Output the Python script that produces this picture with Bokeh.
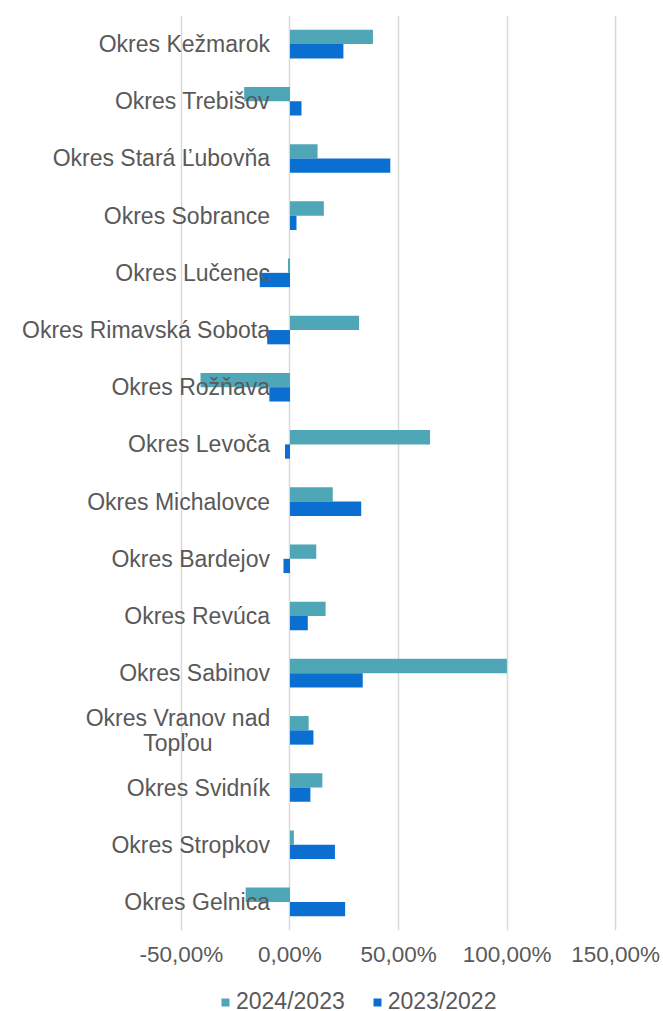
from bokeh.plotting import figure
from bokeh.layouts import column
from bokeh.models import (FactorRange, Range1d, FixedTicker, Legend, LegendItem,
                          ColumnDataSource)
from bokeh.transform import dodge
from bokeh.core.properties import value
from bokeh.embed import file_html
from bokeh.resources import INLINE

# ---------------- data ----------------
districts = [
    "Okres Kežmarok", "Okres Trebišov", "Okres Stará Ľubovňa", "Okres Sobrance",
    "Okres Lučenec", "Okres Rimavská Sobota", "Okres Rožňava", "Okres Levoča",
    "Okres Michalovce", "Okres Bardejov", "Okres Revúca", "Okres Sabinov",
    "Okres Vranov nad Topľou", "Okres Svidník", "Okres Stropkov", "Okres Gelnica",
]
change_2024_2023 = [38.2, -21.1, 12.7, 15.6, -0.9, 31.8, -41.2, 64.5,
                    19.7, 12.1, 16.4, 99.9, 8.6, 14.9, 1.8, -20.4]
change_2023_2022 = [24.6, 5.3, 46.2, 3.0, -13.9, -10.5, -9.5, -2.3,
                    32.8, -3.0, 8.2, 33.5, 10.8, 9.4, 20.7, 25.4]
series_names = ["2024/2023", "2023/2022"]
tick_values = [-50, 0, 50, 100, 150]
tick_labels = ["-50,00%", "0,00%", "50,00%", "100,00%", "150,00%"]

# ---------------- style ----------------
TEAL = "#4ea6b6"
BLUE = "#0a6fd1"
TEXT = "#595959"
FONT = "Liberation Sans"
FS = "23px"

source = ColumnDataSource(dict(d=districts, a=change_2024_2023, b=change_2023_2022))

p = figure(width=663, height=969, output_backend="svg", toolbar_location=None,
           y_range=FactorRange(factors=list(reversed(districts)), range_padding=0),
           x_range=Range1d(-133.3, 172.0),
           y_axis_location=None,
           min_border_left=0, min_border_right=0, min_border_top=15, min_border_bottom=30)
p.outline_line_color = None
p.background_fill_color = "white"
p.border_fill_color = "white"

r1 = p.hbar(y=dodge("d", 0.125, range=p.y_range), right="a", left=0, height=0.25,
            source=source, fill_color=TEAL, line_color=None)
r2 = p.hbar(y=dodge("d", -0.125, range=p.y_range), right="b", left=0, height=0.25,
            source=source, fill_color=BLUE, line_color=None)

# grid / axis
p.ygrid.grid_line_color = None
p.xgrid.grid_line_color = "#d9d9d9"
p.xgrid.grid_line_width = 1.5
p.xaxis.ticker = FixedTicker(ticks=tick_values)
p.xaxis.major_label_overrides = {v: s for v, s in zip(tick_values, tick_labels)}
p.xaxis.axis_line_color = None
p.xaxis.major_tick_line_color = None
p.xaxis.minor_tick_line_color = None
p.xaxis.major_label_text_font = FONT
p.xaxis.major_label_text_font_size = "22.5px"
p.xaxis.major_label_text_color = TEXT
p.xaxis.major_label_standoff = 5

# category labels next to the zero line
single = [d for d in districts if len(d) <= 22]
wrapped = [d for d in districts if len(d) > 22]
p.text(x=[0] * len(single), y=single, text=single, x_offset=-20,
       text_align="right", text_baseline="middle", text_font=value(FONT),
       text_font_size=FS, text_color=TEXT)
for d in wrapped:
    first, second = d.rsplit(" ", 1)
    p.text(x=[0, 0], y=[d, d], text=[first, second], x_offset=-112,
           y_offset=[-12.5, 12.5], text_align="center", text_baseline="middle",
           text_font=value(FONT), text_font_size=FS, text_color=TEXT)

# ---------------- legend strip ----------------
lf = figure(width=663, height=42, output_backend="svg", toolbar_location=None,
            x_range=Range1d(0, 1), y_range=Range1d(0, 1),
            x_axis_location=None, y_axis_location=None, min_border=0)
lf.outline_line_color = None
lf.grid.grid_line_color = None
lf.background_fill_color = "white"
lf.border_fill_color = "white"
# legend keys only (placed outside the visible range of this strip)
k1 = lf.hbar(y=[-5], left=[0], right=[0], height=0.25, fill_color=TEAL, line_color=None)
k2 = lf.hbar(y=[-5], left=[0], right=[0], height=0.25, fill_color=BLUE, line_color=None)

legend = Legend(items=[LegendItem(label=series_names[0], renderers=[k1]),
                       LegendItem(label=series_names[1], renderers=[k2])],
                orientation="horizontal", location=(220, -4),
                glyph_width=10, glyph_height=10, label_standoff=6, spacing=27,
                padding=0, margin=0, border_line_color=None, background_fill_alpha=0,
                label_text_font=FONT, label_text_font_size=FS, label_text_color=TEXT)
lf.add_layout(legend, "center")

open("out.html", "w").write(file_html(column(p, lf, spacing=0), INLINE))
